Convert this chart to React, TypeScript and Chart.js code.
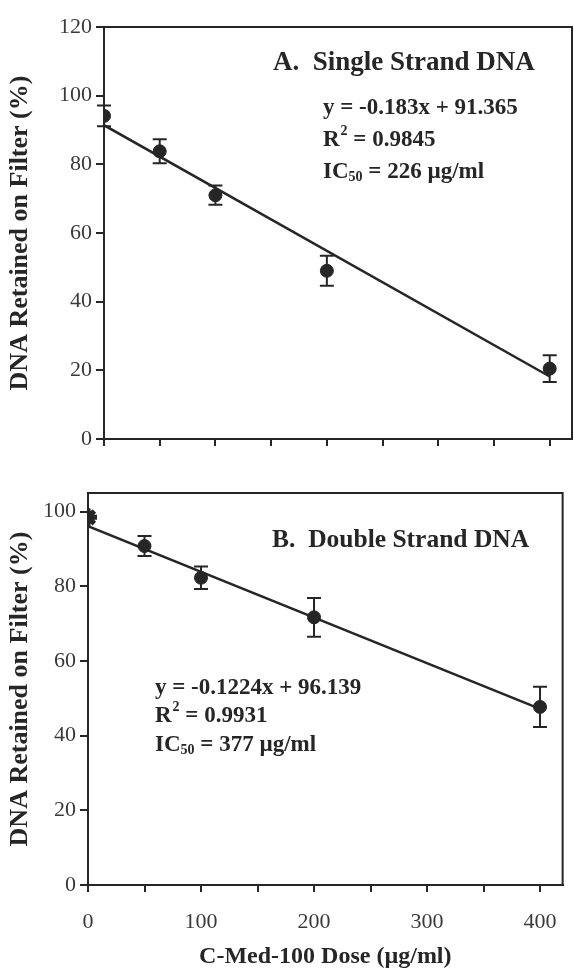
import React, { useEffect, useRef } from 'react';
import { Chart, registerables } from 'chart.js';

Chart.register(...registerables);

// ---- Panel A: single strand DNA ----
const doseA = [0, 50, 100, 200, 400];
const retainedA = [94.1, 83.8, 71.0, 49.0, 20.5];
const errorA = [3.0, 3.5, 2.8, 4.4, 3.9];
const fitDoseA = [0, 400];
const fitA = [91.4, 18.2];
const yTicksA = [0, 20, 40, 60, 80, 100, 120];
const titleA = 'A.  Single Strand DNA';
const equationA = 'y = -0.183x + 91.365';
const r2A = '0.9845';
const ic50A = '226';

// ---- Panel B: double strand DNA ----
const doseB = [0, 50, 100, 200, 400];
const retainedB = [98.5, 90.8, 82.3, 71.7, 47.7];
const errorB = [0, 2.7, 3.0, 5.2, 5.4];
const fitDoseB = [0, 400];
const fitB = [96.1, 47.2];
const yTicksB = [0, 20, 40, 60, 80, 100];
const titleB = 'B.  Double Strand DNA';
const equationB = 'y = -0.1224x + 96.139';
const r2B = '0.9931';
const ic50B = '377';

// ---- shared axis ----
const xTicks = [0, 50, 100, 150, 200, 250, 300, 350, 400];
const xTickLabels = ['0', '100', '200', '300', '400'];
const yTitle = 'DNA Retained on Filter (%)';
const xTitle = 'C-Med-100 Dose (µg/ml)';

const INK = '#262626';
const LABEL = '#3a3a3a';
const SERIF = '"Liberation Serif", "Times New Roman", "DejaVu Serif", serif';

type Panel = {
  dose: number[];
  values: number[];
  errors: number[];
  fitX: number[];
  fitY: number[];
  yTicks: number[];
  yMax: number;
  title: string;
  titleSize: number;
  equation: string;
  r2: string;
  ic50: string;
  showXLabels: boolean;
  width: number;
  height: number;
  area: { left: number; right: number; top: number; bottom: number };
  titlePos: [number, number];
  statsPos: [number, number];
  lineGap: number;
  firstStar: boolean;
};

const panelA: Panel = {
  dose: doseA, values: retainedA, errors: errorA, fitX: fitDoseA, fitY: fitA,
  yTicks: yTicksA, yMax: 120, title: titleA, titleSize: 27, equation: equationA, r2: r2A, ic50: ic50A,
  showXLabels: false, width: 574, height: 470,
  area: { left: 104, right: 572, top: 27, bottom: 439 },
  titlePos: [273, 63], statsPos: [323, 108], lineGap: 32, firstStar: false,
};

const panelB: Panel = {
  dose: doseB, values: retainedB, errors: errorB, fitX: fitDoseB, fitY: fitB,
  yTicks: yTicksB, yMax: 105, title: titleB, titleSize: 25.5, equation: equationB, r2: r2B, ic50: ic50B,
  showXLabels: true, width: 574, height: 508,
  area: { left: 88, right: 564, top: 23, bottom: 415 },
  titlePos: [272, 70], statsPos: [155, 218], lineGap: 28.5, firstStar: true,
};

function drawStats(ctx: CanvasRenderingContext2D, p: Panel) {
  ctx.save();
  ctx.fillStyle = INK;
  ctx.textBaseline = 'middle';
  ctx.textAlign = 'left';
  ctx.font = `bold ${p.titleSize}px ${SERIF}`;
  ctx.fillText(p.title, p.titlePos[0], p.titlePos[1]);

  const [x, y0] = p.statsPos;
  const big = `bold 23px ${SERIF}`;
  const small = `bold 14px ${SERIF}`;
  ctx.font = big;
  ctx.fillText(p.equation, x, y0);

  const y1 = y0 + p.lineGap;
  ctx.font = big;
  ctx.fillText('R', x, y1);
  let cx = x + ctx.measureText('R').width + 1;
  ctx.font = small;
  ctx.fillText('2', cx, y1 - 9);
  cx += ctx.measureText('2').width;
  ctx.font = big;
  ctx.fillText(' = ' + p.r2, cx, y1);

  const y2 = y1 + p.lineGap;
  ctx.font = big;
  ctx.fillText('IC', x, y2);
  cx = x + ctx.measureText('IC').width;
  ctx.font = small;
  ctx.fillText('50', cx, y2 + 5);
  cx += ctx.measureText('50').width;
  ctx.font = big;
  ctx.fillText(' = ' + p.ic50 + ' µg/ml', cx, y2);
  ctx.restore();
}

function makeConfig(p: Panel): any {
  const framePlugin = {
    id: 'frameAndBars',
    afterDatasetsDraw(chart: any) {
      const { ctx, chartArea, scales } = chart;
      const xs = scales.x;
      const ys = scales.y;
      ctx.save();
      ctx.strokeStyle = INK;
      ctx.lineWidth = 2;
      ctx.strokeRect(chartArea.left, chartArea.top, chartArea.right - chartArea.left, chartArea.bottom - chartArea.top);
      ctx.lineWidth = 2;
      p.dose.forEach((d, i) => {
        const e = p.errors[i];
        if (!e) return;
        const px = xs.getPixelForValue(d);
        const yTop = ys.getPixelForValue(p.values[i] + e);
        const yBot = ys.getPixelForValue(p.values[i] - e);
        ctx.beginPath();
        ctx.moveTo(px, yTop);
        ctx.lineTo(px, yBot);
        ctx.moveTo(px - 7, yTop);
        ctx.lineTo(px + 7, yTop);
        ctx.moveTo(px - 7, yBot);
        ctx.lineTo(px + 7, yBot);
        ctx.stroke();
      });
      ctx.restore();
      drawStats(ctx, p);
    },
  };

  return {
    type: 'scatter',
    data: {
      datasets: [
        {
          type: 'line',
          data: p.fitX.map((x, i) => ({ x, y: p.fitY[i] })),
          borderColor: INK,
          borderWidth: 2.5,
          pointRadius: 0,
          showLine: true,
          fill: false,
          order: 2,
        },
        {
          type: 'scatter',
          data: p.dose.map((x, i) => ({ x, y: p.values[i] })),
          backgroundColor: INK,
          borderColor: INK,
          borderWidth: p.dose.map((_, i) => (p.firstStar && i === 0 ? 5 : 1)),
          pointStyle: p.dose.map((_, i) => (p.firstStar && i === 0 ? 'star' : 'circle')),
          pointRadius: p.dose.map((_, i) => (p.firstStar && i === 0 ? 9 : 6.5)),
          order: 1,
        },
      ],
    },
    options: {
      responsive: false,
      animation: false,
      events: [],
      layout: {
        autoPadding: false,
        padding: {
          left: 0,
          top: p.area.top,
          right: p.width - p.area.right,
          bottom: 0,
        },
      },
      plugins: {
        legend: { display: false },
        tooltip: { enabled: false },
        title: { display: false },
      },
      scales: {
        x: {
          type: 'linear',
          min: 0,
          max: 420,
          afterBuildTicks: (scale: any) => {
            scale.ticks = xTicks.map((v) => ({ value: v }));
          },
          afterFit: (scale: any) => {
            scale.height = p.height - p.area.bottom;
          },
          grid: {
            display: true,
            drawOnChartArea: false,
            drawTicks: true,
            tickLength: 7,
            color: INK,
            lineWidth: 2,
          },
          border: { display: true, color: INK, width: 2 },
          ticks: {
            display: p.showXLabels,
            padding: 17,
            color: LABEL,
            font: { family: SERIF, size: 22 },
            maxRotation: 0,
            autoSkip: false,
            callback: (v: number) => {
              const s = String(v);
              return xTickLabels.includes(s) ? s : '';
            },
          },
          title: {
            display: p.showXLabels,
            text: xTitle,
            color: INK,
            font: { family: SERIF, size: 24, weight: 'bold' },
            padding: { top: 0, bottom: 7 },
          },
        },
        y: {
          type: 'linear',
          min: 0,
          max: p.yMax,
          afterBuildTicks: (scale: any) => {
            scale.ticks = p.yTicks.map((v) => ({ value: v }));
          },
          afterFit: (scale: any) => {
            scale.width = p.area.left;
          },
          grid: {
            display: true,
            drawOnChartArea: false,
            drawTicks: true,
            tickLength: 8,
            color: INK,
            lineWidth: 2,
          },
          border: { display: true, color: INK, width: 2 },
          ticks: {
            padding: 4,
            color: LABEL,
            font: { family: SERIF, size: 22 },
            autoSkip: false,
          },
          title: {
            display: true,
            text: yTitle,
            color: INK,
            font: { family: SERIF, size: 26, weight: 'bold' },
            padding: { top: 5, bottom: 0 },
          },
        },
      },
    },
    plugins: [framePlugin],
  };
}

function PanelChart({ p }: { p: Panel }) {
  const ref = useRef<HTMLCanvasElement | null>(null);
  useEffect(() => {
    if (!ref.current) return;
    const chart = new Chart(ref.current, makeConfig(p));
    return () => chart.destroy();
  }, [p]);
  return (
    <canvas
      ref={ref}
      width={p.width}
      height={p.height}
      style={{ display: 'block', width: p.width, height: p.height }}
    />
  );
}

export default function App() {
  return (
    <div
      style={{
        position: 'absolute',
        left: 0,
        top: 0,
        width: 574,
        height: 978,
        background: '#ffffff',
        overflow: 'hidden',
      }}
    >
      <PanelChart p={panelA} />
      <PanelChart p={panelB} />
    </div>
  );
}
